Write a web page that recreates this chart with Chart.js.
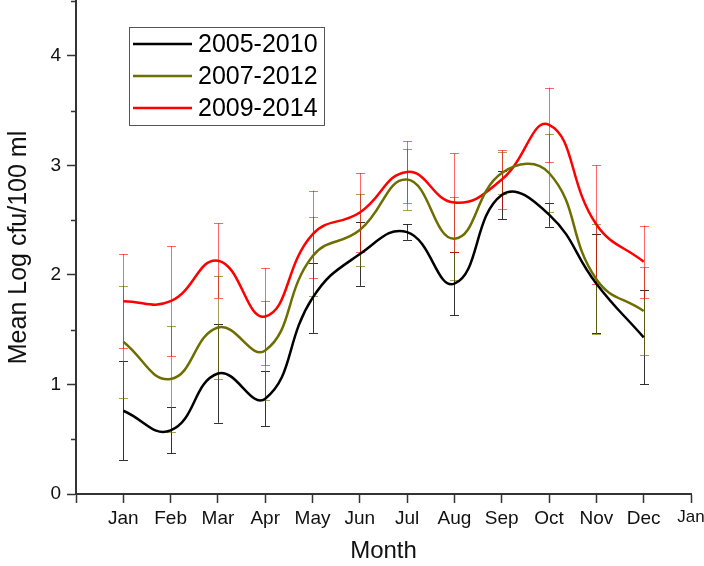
<!DOCTYPE html>
<html>
<head>
<meta charset="utf-8">
<script src="https://cdn.jsdelivr.net/npm/chart.js@4.4.0/dist/chart.umd.min.js"></script>
<style>
  body { margin: 0; background: #fff; }
  canvas { display: block; }
</style>
</head>
<body>
<canvas id="myChart" width="704" height="566"></canvas>
<script>
const tickLabels = ['', 'Jan', 'Feb', 'Mar', 'Apr', 'May', 'Jun', 'Jul', 'Aug', 'Sep', 'Oct', 'Nov', 'Dec', 'Jan'];
const seriesNames = ['2005-2010', '2007-2012', '2009-2014'];

// monthly means, Jan..Dec
const mean_2005_2010 = [0.76, 0.58, 1.10, 0.87, 1.79, 2.19, 2.39, 1.92, 2.73, 2.55, 1.92, 1.43];
const mean_2007_2012 = [1.39, 1.05, 1.52, 1.31, 2.17, 2.41, 2.87, 2.33, 2.93, 2.93, 1.96, 1.67];
const mean_2009_2014 = [1.76, 1.76, 2.13, 1.62, 2.37, 2.57, 2.94, 2.66, 2.87, 3.37, 2.46, 2.12];

// error (+/-)
const err_2005_2010 = [0.45, 0.21, 0.45, 0.25, 0.32, 0.29, 0.07, 0.29, 0.22, 0.11, 0.45, 0.43];
const err_2007_2012 = [0.51, 0.48, 0.47, 0.45, 0.36, 0.33, 0.28, 0.38, 0.19, 0.36, 0.50, 0.40];
const err_2009_2014 = [0.43, 0.50, 0.34, 0.44, 0.40, 0.36, 0.28, 0.45, 0.27, 0.34, 0.54, 0.33];

const lineColors = ['#000000', '#6e6e00', '#ff0000'];
const barColors = ['rgba(0,0,0,0.8)', 'rgba(110,110,0,0.65)', 'rgba(255,0,0,0.6)'];
const FONT = 'Arial, "Liberation Sans", sans-serif';

const toPoints = arr => arr.map((v, i) => ({ x: i + 1, y: v }));

// error bars + minor ticks + boxed legend
const extras = {
    id: 'extras',
    beforeDatasetsDraw(chart) {
        const ctx = chart.ctx;
        const xs = chart.scales.x, ys = chart.scales.y;
        ctx.save();
        ctx.lineWidth = 1;
        chart.data.datasets.forEach((ds, di) => {
            ctx.strokeStyle = barColors[di];
            ds.data.forEach((p, i) => {
                const e = ds.errors[i];
                const px = Math.round(xs.getPixelForValue(p.x)) + 0.5;
                const top = ys.getPixelForValue(p.y + e);
                const bot = ys.getPixelForValue(p.y - e);
                ctx.beginPath();
                ctx.moveTo(px, top); ctx.lineTo(px, bot);
                ctx.moveTo(px - 4.5, Math.round(top) + 0.5); ctx.lineTo(px + 4.5, Math.round(top) + 0.5);
                ctx.moveTo(px - 4.5, Math.round(bot) + 0.5); ctx.lineTo(px + 4.5, Math.round(bot) + 0.5);
                ctx.stroke();
            });
        });
        ctx.restore();
    },
    afterDraw(chart) {
        const ctx = chart.ctx;
        const ys = chart.scales.y;
        const left = chart.chartArea.left;
        ctx.save();
        // minor ticks
        ctx.strokeStyle = '#333';
        ctx.lineWidth = 1.5;
        for (let v = 0.5; v <= 4.5; v += 1) {
            const py = Math.round(ys.getPixelForValue(v)) + 0.5;
            ctx.beginPath();
            ctx.moveTo(left - 5, py); ctx.lineTo(left, py);
            ctx.stroke();
        }
        // legend box
        ctx.fillStyle = '#fff';
        ctx.fillRect(129.5, 27.5, 195, 98);
        ctx.strokeStyle = '#555';
        ctx.lineWidth = 1;
        ctx.strokeRect(129.5, 27.5, 195, 98);
        const rows = [44, 76, 108];
        ctx.font = '25px ' + FONT;
        ctx.textBaseline = 'middle';
        chart.data.datasets.forEach((ds, di) => {
            ctx.strokeStyle = ds.borderColor;
            ctx.lineWidth = 2.5;
            ctx.beginPath();
            ctx.moveTo(133, rows[di]); ctx.lineTo(192, rows[di]);
            ctx.stroke();
            ctx.fillStyle = '#000';
            ctx.fillText(ds.label, 198, rows[di] + 1);
        });
        ctx.restore();
    }
};

const datasets = [
    { label: seriesNames[0], data: toPoints(mean_2005_2010), errors: err_2005_2010 },
    { label: seriesNames[1], data: toPoints(mean_2007_2012), errors: err_2007_2012 },
    { label: seriesNames[2], data: toPoints(mean_2009_2014), errors: err_2009_2014 }
].map((ds, i) => Object.assign(ds, {
    borderColor: lineColors[i],
    backgroundColor: lineColors[i],
    borderWidth: 2.5,
    pointRadius: 0,
    tension: 0.45,
    fill: false
}));

const ctx = document.getElementById('myChart').getContext('2d');
const myChart = new Chart(ctx, {
    type: 'line',
    data: { datasets: datasets },
    options: {
        responsive: false,
        animation: false,
        events: [],
        layout: { padding: { top: 1, right: 13, left: 0, bottom: 0 } },
        plugins: {
            legend: { display: false },
            tooltip: { enabled: false }
        },
        scales: {
            x: {
                type: 'linear',
                min: 0,
                max: 13,
                afterFit: s => { s.height = 72; s.paddingLeft = 0; s.paddingRight = 0; },
                grid: { drawOnChartArea: false, tickLength: 9, tickColor: '#333', tickWidth: 1.5 },
                border: { color: '#333', width: 2 },
                ticks: {
                    stepSize: 1,
                    autoSkip: false,
                    maxRotation: 0,
                    padding: 4,
                    color: '#111',
                    // last label sits at the canvas edge, a bit smaller so it is not cut
                    font: c => ({ family: FONT, size: c.index === 13 ? 17 : 19 }),
                    callback: v => tickLabels[v]
                },
                title: {
                    display: true,
                    text: 'Month',
                    color: '#111',
                    font: { family: FONT, size: 24 },
                    padding: { top: 0, bottom: 0 }
                }
            },
            y: {
                min: 0,
                max: 4.5,
                afterFit: s => { s.width = 76; s.paddingTop = 0; s.paddingBottom = 0; },
                grid: {
                    drawOnChartArea: false,
                    tickLength: 9,
                    tickWidth: 1.5,
                    tickColor: c => Number.isInteger(c.tick.value) ? '#333' : 'rgba(0,0,0,0)'
                },
                border: { color: '#333', width: 2 },
                ticks: {
                    stepSize: 1,
                    padding: 6,
                    color: '#111',
                    font: { family: FONT, size: 19 },
                    callback: v => Number.isInteger(v) ? v : ''
                },
                title: {
                    display: true,
                    text: 'Mean Log cfu/100 ml',
                    color: '#111',
                    font: { family: FONT, size: 25 },
                    padding: { top: 4, bottom: 4 }
                }
            }
        }
    },
    plugins: [extras]
});
</script>
</body>
</html>
